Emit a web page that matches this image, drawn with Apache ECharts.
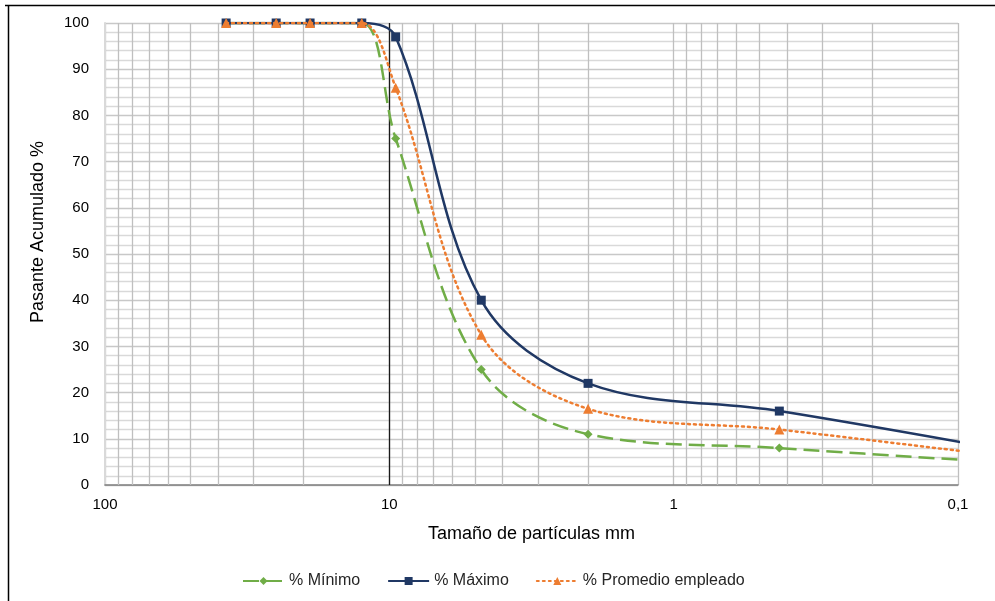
<!DOCTYPE html>
<html>
<head>
<meta charset="utf-8">
<script src="https://cdn.jsdelivr.net/npm/echarts@6/dist/echarts.min.js"></script>
<style>
html,body{margin:0;padding:0;background:#fff;}
#chart{width:995px;height:601px;}
</style>
</head>
<body>
<div id="chart"></div>
<script>
// Sieve sizes (mm) — last one lies beyond the axis (clipped, as in the reference)
const sizes = [37.5, 25, 19, 12.5, 9.5, 4.75, 2, 0.425, 0.075];
const minimo = [100, 100, 100, 100, 75, 25, 11, 8, 5];
const maximo = [100, 100, 100, 100, 97, 40, 22, 16, 8];
const promedio = [100, 100, 100, 100, 86, 32.5, 16.5, 12, 6.5];
const minorGridX = [90, 80, 70, 60, 50, 40, 30, 20, 9, 8, 7, 6, 5, 4, 3, 2, 0.9, 0.8, 0.7, 0.6, 0.5, 0.4, 0.3, 0.2];
const seriesNames = ['% Mínimo', '% Máximo', '% Promedio empleado'];

const pair = (xs, ys) => xs.map((x, i) => [x, ys[i]]);
const font = '"Liberation Sans", Arial, sans-serif';

const chart = echarts.init(document.getElementById('chart'), null, {renderer: 'canvas'});
chart.setOption({
  animation: false,
  backgroundColor: '#fff',
  grid: {left: 105, right: 37, top: 23, bottom: 116, containLabel: false},
  legend: {
    data: seriesNames,
    left: 237, top: 568,
    itemWidth: 41, itemHeight: 10, itemGap: 27,
    textStyle: {fontFamily: font, fontSize: 16, color: '#262626'}
  },
  graphic: [
    {type: 'line', shape: {x1: 5, y1: 5.5, x2: 995, y2: 5.5}, style: {stroke: '#000', lineWidth: 1.5}, silent: true},
    {type: 'line', shape: {x1: 8.5, y1: 5, x2: 8.5, y2: 601}, style: {stroke: '#000', lineWidth: 1.5}, silent: true},
    {type: 'text', x: 38, y: 232, rotation: Math.PI / 2,
      style: {text: 'Pasante Acumulado %', fontFamily: font, fontSize: 18, fill: '#000', align: 'center', verticalAlign: 'middle'}}
  ],
  xAxis: {
    type: 'log', logBase: 10, min: 0.1, max: 100, inverse: true,
    name: 'Tamaño de partículas mm', nameLocation: 'middle', nameGap: 40,
    nameTextStyle: {fontFamily: font, fontSize: 18, color: '#000'},
    axisLine: {show: true, lineStyle: {color: '#7f7f7f', width: 1.5}},
    axisTick: {show: false},
    axisLabel: {fontFamily: font, fontSize: 15, color: '#000', margin: 12,
      formatter: v => String(v).replace('.', ',')},
    splitLine: {show: true, lineStyle: {color: '#bfbfbf', width: 1.3}},
    minorSplitLine: {show: false}
  },
  yAxis: {
    type: 'value', min: 0, max: 100, interval: 10,
    axisLine: {show: true, lineStyle: {color: '#d9d9d9', width: 2}},
    axisTick: {show: false},
    axisLabel: {fontFamily: font, fontSize: 15, color: '#000', margin: 16},
    splitLine: {show: true, lineStyle: {color: '#c8c8c8', width: 1.3}},
    minorTick: {show: false, splitNumber: 5},
    minorSplitLine: {show: true, lineStyle: {color: '#d9d9d9', width: 1.3}}
  },
  series: [
    {
      name: seriesNames[0], type: 'line', data: pair(sizes, minimo),
      smooth: 0.35, symbol: 'diamond', symbolSize: 9, z: 3,
      itemStyle: {color: '#70AD47'},
      lineStyle: {color: '#70AD47', width: 2.5, type: [16, 7]},
      markLine: {
        silent: true, symbol: 'none', label: {show: false},
        data: minorGridX.map(v => ({xAxis: v, lineStyle: {color: '#bfbfbf', width: 1.3, type: 'solid'}}))
          .concat([{xAxis: 10, lineStyle: {color: '#1a1a1a', width: 1.3, type: 'solid'}}]),
        z: 1
      }
    },
    {
      name: seriesNames[1], type: 'line', data: pair(sizes, maximo),
      smooth: 0.35, symbol: 'rect', symbolSize: 9, z: 4,
      itemStyle: {color: '#203864'},
      lineStyle: {color: '#203864', width: 2.5, type: 'solid'}
    },
    {
      name: seriesNames[2], type: 'line', data: pair(sizes, promedio),
      smooth: 0.35, symbol: 'triangle', symbolSize: 10, z: 5,
      itemStyle: {color: '#ED7D31'},
      lineStyle: {color: '#ED7D31', width: 2.5, type: [2, 4], cap: 'round'}
    }
  ]
});
</script>
</body>
</html>
